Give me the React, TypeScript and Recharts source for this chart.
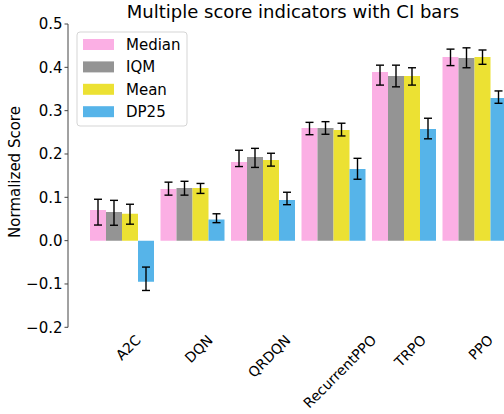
import React from "react";
import { BarChart, Bar, XAxis, YAxis, ErrorBar } from "recharts";

const categories = ["A2C", "DQN", "QRDQN", "RecurrentPPO", "TRPO", "PPO"];

const medianVals = [0.071, 0.119, 0.1816, 0.26, 0.389, 0.424];
const medianLo = [0.036, 0.105, 0.171, 0.2445, 0.359, 0.404];
const medianHi = [0.0955, 0.135, 0.2086, 0.273, 0.405, 0.442];

const iqmVals = [0.066, 0.1216, 0.193, 0.26, 0.38, 0.4216];
const iqmLo = [0.0355, 0.105, 0.169, 0.2455, 0.355, 0.399];
const iqmHi = [0.093, 0.137, 0.213, 0.2746, 0.405, 0.445];

const meanVals = [0.062, 0.1216, 0.186, 0.2555, 0.38, 0.424];
const meanLo = [0.038, 0.109, 0.172, 0.2416, 0.359, 0.407];
const meanHi = [0.084, 0.132, 0.2017, 0.271, 0.399, 0.44];

const dp25Vals = [-0.0946, 0.049, 0.094, 0.1655, 0.2578, 0.329];
const dp25Lo = [-0.115, 0.0415, 0.083, 0.1417, 0.235, 0.317];
const dp25Hi = [-0.061, 0.062, 0.1117, 0.19, 0.2825, 0.3455];

const yTicks = [-0.2, -0.1, 0.0, 0.1, 0.2, 0.3, 0.4, 0.5];

const seriesNames = ["Median", "IQM", "Mean", "DP25"];
const seriesColors = ["#fbafe4", "#949494", "#ece133", "#56b4e9"];

const FONT = "'DejaVu Sans', sans-serif";

const data = categories.map((c, i) => ({
  name: c,
  Median: medianVals[i],
  MedianErr: [medianVals[i] - medianLo[i], medianHi[i] - medianVals[i]],
  IQM: iqmVals[i],
  IQMErr: [iqmVals[i] - iqmLo[i], iqmHi[i] - iqmVals[i]],
  Mean: meanVals[i],
  MeanErr: [meanVals[i] - meanLo[i], meanHi[i] - meanVals[i]],
  DP25: dp25Vals[i],
  DP25Err: [dp25Vals[i] - dp25Lo[i], dp25Hi[i] - dp25Vals[i]],
}));

let ctx: CanvasRenderingContext2D | null = null;
function measure(text: string, size: number): number {
  if (!ctx) {
    const c = document.createElement("canvas");
    ctx = c.getContext("2d");
  }
  if (!ctx) return text.length * size * 0.6;
  ctx.font = `${size}px 'DejaVu Sans'`;
  return ctx.measureText(text).width;
}

const ROT = 45;

const XTick = (props: any) => {
  const { x, payload } = props;
  const size = 14;
  const text = String(payload.value);
  const w = measure(text, size);
  const h = size * 0.8;
  const r = (ROT * Math.PI) / 180;
  const H = w * Math.sin(r) + h * Math.cos(r);
  const cx = x + 7;
  const cy = 333.5 + H / 2;
  return (
    <text
      x={cx}
      y={cy}
      textAnchor="middle"
      dominantBaseline="central"
      fontSize={size}
      fontFamily={FONT}
      fill="#000"
      transform={`rotate(${-ROT} ${cx} ${cy})`}
    >
      {text}
    </text>
  );
};

const fmt = (v: number) => v.toFixed(1).replace("-", "\u2212");

const LX = 77;
const LY = 32;

export default function App() {
  return (
    <div style={{ position: "absolute", left: 0, top: 0, width: 504, height: 414, overflow: "hidden", background: "#fff" }}>
      <BarChart
        width={509}
        height={414}
        data={data}
        margin={{ top: 24, right: 0, bottom: 6.7, left: 0 }}
        barCategoryGap={4}
        barGap={0}
      >
        <text x={293} y={18} textAnchor="middle" fontSize={18} fontFamily={FONT} fill="#000">
          Multiple score indicators with CI bars
        </text>
        <text
          x={20}
          y={172}
          textAnchor="middle"
          fontSize={15}
          fontFamily={FONT}
          fill="#000"
          transform="rotate(-90 20 172)"
        >
          Normalized Score
        </text>
        <XAxis
          dataKey="name"
          axisLine={false}
          tickLine={false}
          height={80}
          interval={0}
          padding={{ left: 18, right: 0 }}
          tick={<XTick />}
        />
        <YAxis
          width={68}
          domain={[-0.2, 0.5]}
          ticks={yTicks}
          tickFormatter={fmt}
          allowDataOverflow
          axisLine={{ stroke: "#444", strokeWidth: 1 }}
          tickLine={{ stroke: "#444", strokeWidth: 1 }}
          tickSize={3.5}
          tickMargin={2}
          tick={{ fontSize: 15, fontFamily: FONT, fill: "#000" }}
        />
        {seriesNames.map((n, i) => (
          <Bar key={n} dataKey={n} fill={seriesColors[i]} isAnimationActive={false}>
            <ErrorBar dataKey={`${n}Err`} width={4} stroke="#000" strokeWidth={1.4} direction="y" />
          </Bar>
        ))}
        <g>
          <rect x={LX} y={LY} width={110} height={94} rx={3} ry={3} fill="rgba(255,255,255,0.8)" stroke="#d5d5d5" strokeWidth={1} />
          {seriesNames.map((n, i) => (
            <g key={n}>
              <rect x={LX + 6} y={LY + 7 + i * 22.4} width={31} height={11} fill={seriesColors[i]} />
              <text
                x={LX + 49}
                y={LY + 7 + i * 22.4 + 11}
                fontSize={15}
                fontFamily={FONT}
                fill="#000"
              >
                {n}
              </text>
            </g>
          ))}
        </g>
      </BarChart>
    </div>
  );
}
